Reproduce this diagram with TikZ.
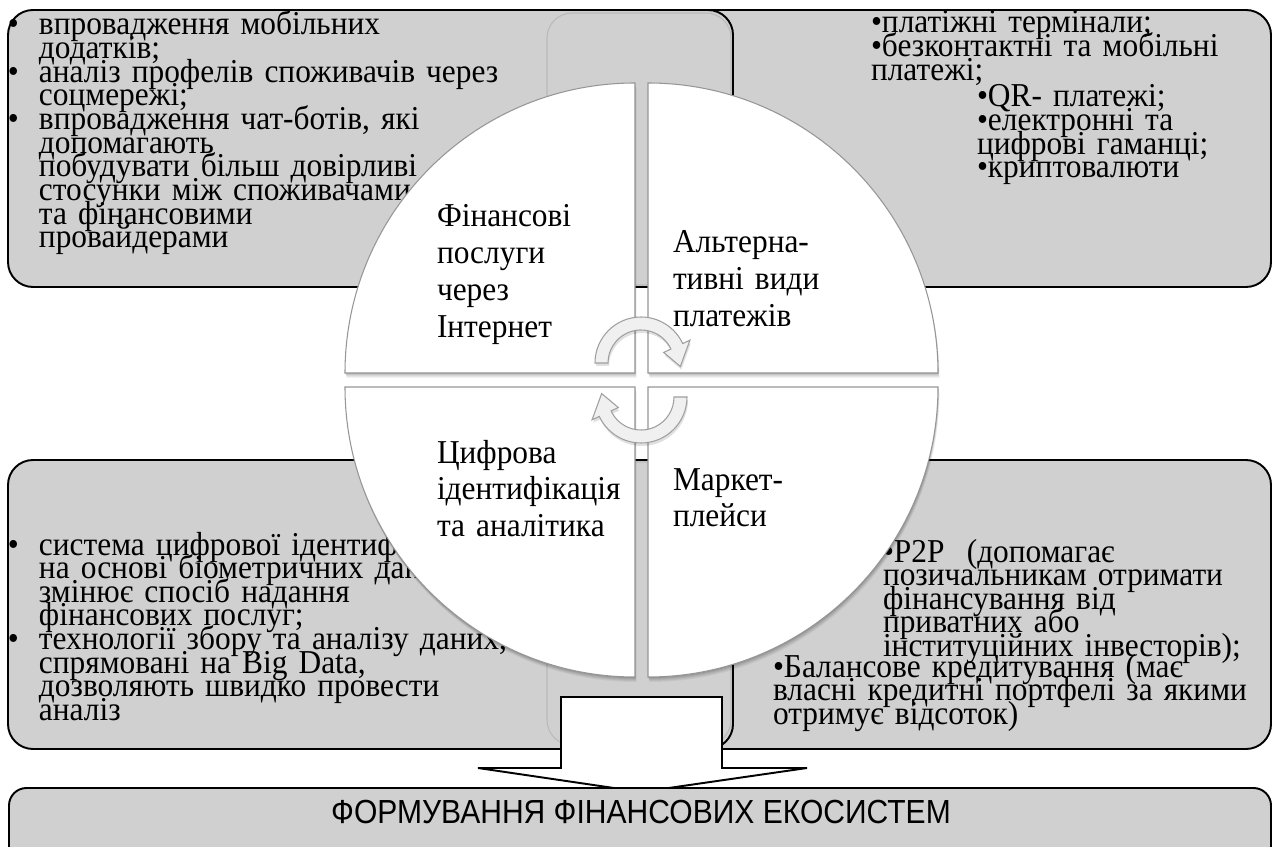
\documentclass[tikz,border=0pt]{standalone}
\usepackage{fontspec}
\setmainfont{Liberation Serif}[FakeStretch=0.94]
\newfontfamily\capfont{Liberation Sans}[FakeStretch=0.9]
\definecolor{boxgray}{RGB}{208,208,208}
\definecolor{midborder}{RGB}{185,185,185}
\definecolor{quadline}{RGB}{150,150,150}
\newcommand\txtfont{\fontsize{19}{13.45}\selectfont\lineskiplimit=-100pt\lineskip=0pt}
\newcommand\lblfont{\fontsize{19}{21.05}\selectfont\lineskiplimit=-100pt\lineskip=0pt}
\newcommand\bul{\makebox[0.62cm][l]{•}}
\newcommand\ind{\hspace*{0.62cm}}
\begin{document}
\begin{tikzpicture}[x=0.02cm,y=-0.02cm,
  box/.style={draw=black, line width=1.1pt, fill=boxgray, rounded corners=0.5cm},
  band/.style={fill=boxgray, draw=midborder, line width=0.6pt, rounded corners=0.5cm},
  txt/.style={anchor=base west, inner sep=0pt, outer sep=0pt, align=left, text width=12cm, font=\txtfont},
  lbl/.style={anchor=base west, inner sep=0pt, outer sep=0pt, align=left, text width=6cm, font=\lblfont},
  quad/.style={fill=white, draw=quadline, line width=0.6pt},
  cyc/.style={fill=gray!12, draw=gray!75, line width=0.6pt}]
\useasboundingbox (0,0) rectangle (1274,847);
\fill[white] (0,0) rectangle (1274,847);
% corner boxes
\draw[box] (547,10) rectangle (1271,287);
\draw[box] (547,460) rectangle (1271,749);
\draw[box] (8,10) rectangle (733,287);
\draw[box] (8,460) rectangle (733,749);
% middle bands
\draw[band] (547,13) rectangle (731,285);
\draw[band] (547,462) rectangle (731,745);
% box texts
\node[txt] (tltext) at (8,35) {\bul впровадження мобільних\\ \ind додатків;\\ \bul аналіз профелів споживачів через\\ \ind соцмережі;\\ \bul впровадження чат-ботів, які\\ \ind допомагають\\ \ind побудувати більш довірливі\\ \ind стосунки між споживачами\\ \ind та фінансовими\\ \ind провайдерами};
\node[txt] (trtexta) at (871,33) {•платіжні термінали;\\ •безконтактні та мобільні\\ платежі;};
\node[txt] (trtextb) at (977,107) {•QR- платежі;\\ •електронні та\\ цифрові гаманці;\\ •криптовалюти};
\node[txt] (bltext) at (8,555) {\bul система цифрової ідентифікації\\ \ind на основі біометричних даних\\ \ind змінює спосіб надання\\ \ind фінансових послуг;\\ \bul технології збору та аналізу даних,\\ \ind спрямовані на Big Data,\\ \ind дозволяють швидко провести\\ \ind аналіз};
\node[txt] (brtexta) at (883,562) {•P2P\ \ (допомагає\\ позичальникам отримати\\ фінансування від\\ приватних або\\ інституційних інвесторів);};
\node[txt] (brtextb) at (773,677) {•Балансове кредитування (має\\ власні кредитні портфелі за якими\\ отримує відсоток)};
% quadrants with soft shadows
\foreach \cx/\cy/\a in {635/373/180, 648/373/270, 635/387/90, 648/387/0}{
  \foreach \s/\o in {5/0.05,4/0.05,3/0.06,2/0.07,1/0.08}{
    \fill[black, opacity=\o] ([shift={(\s*0.3,\s)}]\cx,\cy) -- ++(\a:290) arc[start angle=\a, delta angle=90, radius=290] -- cycle;
  }
  \draw[quad] (\cx,\cy) -- ++(\a:290) arc[start angle=\a, delta angle=90, radius=290] -- cycle;
}
% quadrant labels
\node[lbl] (fin) at (437,227) {Фінансові\\ послуги\\ через\\ Інтернет};
\node[lbl] (alt) at (673,253) {Альтерна-\\ тивні види\\ платежів};
\node[lbl] (dig) at (437,463) {Цифрова\\ ідентифікація\\ та аналітика};
\node[lbl] (mkt) at (673,490) {Маркет-\\ плейси};
% central cycle arrows
\begin{scope}[shift={(641,363)}]
  \fill[black, opacity=0.12, shift={(1,3)}] (180:33) -- (180:46) arc[start angle=180, end angle=335, radius=46] -- (335:54) -- (365:39.5) -- (335:25) -- (335:33) arc[start angle=335, end angle=180, radius=33] -- cycle;
  \draw[cyc] (180:33) -- (180:46) arc[start angle=180, end angle=335, radius=46] -- (335:54) -- (365:39.5) -- (335:25) -- (335:33) arc[start angle=335, end angle=180, radius=33] -- cycle;
\end{scope}
\begin{scope}[shift={(641,397)}]
  \fill[black, opacity=0.12, shift={(1,3)}] (0:33) -- (0:46) arc[start angle=0, end angle=155, radius=46] -- (155:54) -- (185:39.5) -- (155:25) -- (155:33) arc[start angle=155, end angle=0, radius=33] -- cycle;
  \draw[cyc] (0:33) -- (0:46) arc[start angle=0, end angle=155, radius=46] -- (155:54) -- (185:39.5) -- (155:25) -- (155:33) arc[start angle=155, end angle=0, radius=33] -- cycle;
\end{scope}
% big down arrow
\draw[line width=1.1pt, fill=white, line join=miter] (561,697) -- (722,697) -- (722,768) -- (807,768) -- (641,792) -- (478,768) -- (561,768) -- cycle;
% bottom box
\draw[box, rounded corners=0.35cm] (9,788) rectangle (1271,890);
\node[anchor=base, inner sep=0pt] (eco) at (641,823) {\capfont\fontsize{19}{20}\selectfont ФОРМУВАННЯ ФІНАНСОВИХ ЕКОСИСТЕМ};
\end{tikzpicture}
\end{document}
